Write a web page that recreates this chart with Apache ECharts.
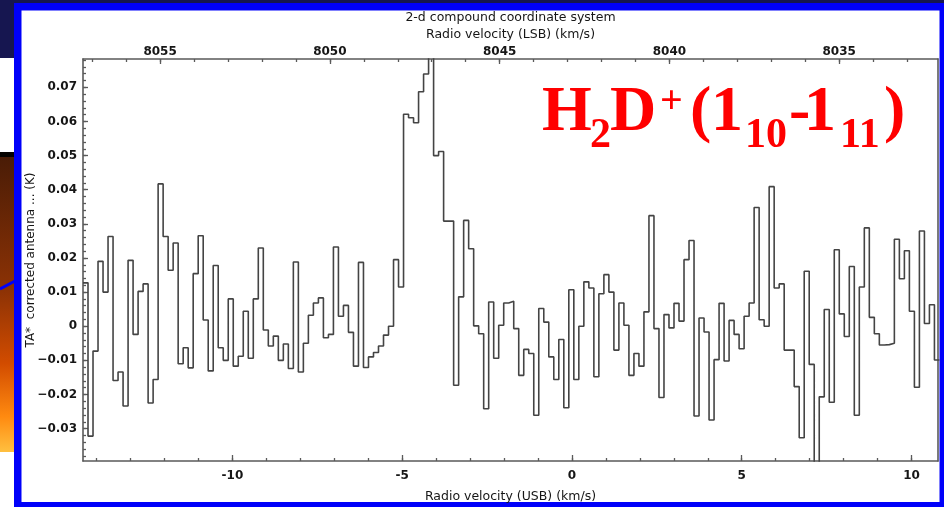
<!DOCTYPE html>
<html>
<head>
<meta charset="utf-8">
<title>H2D+ spectrum</title>
<script src="https://cdn.jsdelivr.net/npm/echarts@6.0.0/dist/echarts.min.js"></script>
<style>
  html, body { margin: 0; padding: 0; background: #161650; }
  #spectrum { width: 944px; height: 507px; }
</style>
</head>
<body>
<div id="spectrum"></div>
<script>
// channel grid of the spectrum, USB velocity (km/s)
const firstChannelEdge = -14.40;
const channelWidth = 0.1475;

// TA* per channel (K), left to right
const taValues = [
    0.0127, -0.0322, -0.0073, 0.0190, 0.0100, 0.0263, -0.0159, -0.0134, -0.0234, 0.0193,
    -0.0024, 0.0102, 0.0124, -0.0225, -0.0156, 0.0417, 0.0263, 0.0164, 0.0244, -0.0110,
    -0.0063, -0.0122, 0.0154, 0.0265, 0.0018, -0.0131, 0.0178, -0.0063, -0.0100, 0.0080,
    -0.0117, -0.0088, 0.0044, -0.0094, 0.0080, 0.0229, -0.0011, -0.0058, -0.0029, -0.0100,
    -0.0052, -0.0124, 0.0188, -0.0134, -0.0050, 0.0032, 0.0068, 0.0083, -0.0034, -0.0024,
    0.0232, 0.0029, 0.0061, -0.0018, -0.0117, 0.0187, -0.0121, -0.0090, -0.0077, -0.0058,
    -0.0026, 0.0000, 0.0195, 0.0115, 0.0621, 0.0611, 0.0596, 0.0687, 0.0739, 0.0820,
    0.0500, 0.0512, 0.0308, 0.0308, -0.0173, 0.0086, 0.0310, 0.0227, 0.0001, -0.0022,
    -0.0242, 0.0071, -0.0094, 0.0003, 0.0068, 0.0073, -0.0007, -0.0144, -0.0068, -0.0080,
    -0.0261, 0.0052, 0.0012, -0.0090, -0.0156, -0.0039, -0.0239, 0.0107, -0.0156, 0.0000,
    0.0130, 0.0112, -0.0148, 0.0095, 0.0151, 0.0100, -0.0070, 0.0068, 0.0003, -0.0144,
    -0.0080, -0.0117, 0.0042, 0.0324, -0.0007, -0.0209, 0.0034, -0.0005, 0.0067, 0.0015,
    0.0195, 0.0251, -0.0263, 0.0024, -0.0017, -0.0275, -0.0098, 0.0067, -0.0102, 0.0017,
    -0.0024, -0.0066, 0.0029, 0.0068, 0.0348, 0.0019, 0.0000, 0.0409, 0.0112, 0.0124,
    -0.0070, -0.0070, -0.0177, -0.0327, 0.0161, -0.0112, -0.0450, -0.0207, 0.0049, -0.0223,
    0.0224, 0.0036, -0.0030, 0.0175, -0.0261, 0.0115, 0.0288, 0.0026, -0.0022, -0.0055,
    -0.0054, -0.0050, 0.0255, 0.0139, 0.0221, 0.0044, -0.0179, 0.0279, 0.0008, 0.0063,
    -0.0099
];

const usbTickLabels = [-10, -5, 0, 5, 10];
const lsbTickLabels = [8055, 8050, 8045, 8040, 8035];
const taTickLabels = [-0.03, -0.02, -0.01, 0, 0.01, 0.02, 0.03, 0.04, 0.05, 0.06, 0.07];

const usbMin = -14.40, usbMax = 10.78;
const lsbOffset = 8042.87; // LSB velocity = offset - USB velocity
const taMin = -0.0395, taMax = 0.0783;

let usbMinor = [], lsbMinor = [], taMinor = [];
for (let v = -14; v <= 10; v++) usbMinor.push(v);
for (let v = 8033; v <= 8057; v++) lsbMinor.push(v);
for (let i = -19; i <= 39; i++) taMinor.push(+(i * 0.002).toFixed(3));

// each channel is a flat step from its left edge, last one closed at its right edge
let stepData = taValues.map((t, i) => [firstChannelEdge + i * channelWidth, t]);
stepData.push([firstChannelEdge + taValues.length * channelWidth, taValues[taValues.length - 1]]);

const axisColor = '#5a5a5a';
const textColor = '#161616';
const tickFont = { fontFamily: 'DejaVu Sans', fontWeight: 'bold', fontSize: 12, color: textColor };
const nameFont = { fontFamily: 'DejaVu Sans', fontSize: 12.5, color: textColor };
const gridBox = { left: 83, top: 59, width: 855, height: 402, outerBoundsMode: 'none' };

function redText(text, x, y, size) {
    return {
        type: 'text', z: 50, x: x, y: y,
        style: {
            text: text, fill: '#ff0000',
            font: 'bold ' + size + 'px "Liberation Serif"',
            textAlign: 'left', textVerticalAlign: 'middle'
        }
    };
}

function tickOnly(customValues, length) {
    return { show: true, customValues: customValues, inside: true, length: length, lineStyle: { color: axisColor, width: 1.3 } };
}

let myChart = echarts.init(document.getElementById('spectrum'));

myChart.setOption({
    animation: false,
    backgroundColor: '#161650',
    grid: [
        Object.assign({}, gridBox),
        Object.assign({}, gridBox)
    ],
    xAxis: [
        {
            gridIndex: 0, type: 'value', position: 'bottom',
            min: usbMin, max: usbMax,
            axisLine: { onZero: false, lineStyle: { color: axisColor, width: 1.6 } },
            axisTick: tickOnly(usbTickLabels, 6),
            axisLabel: Object.assign({ customValues: usbTickLabels, margin: 9 }, tickFont),
            splitLine: { show: false },
            name: 'Radio velocity (USB) (km/s)',
            nameLocation: 'middle', nameGap: 29, nameMoveOverlap: false,
            nameTextStyle: nameFont
        },
        {
            gridIndex: 0, type: 'value', position: 'top', inverse: true,
            min: lsbOffset - usbMax, max: lsbOffset - usbMin,
            axisLine: { onZero: false, lineStyle: { color: axisColor, width: 1.6 } },
            axisTick: tickOnly(lsbTickLabels, 5),
            axisLabel: Object.assign({ customValues: lsbTickLabels, margin: 1, formatter: v => String(v) }, tickFont),
            splitLine: { show: false },
            name: '2-d compound coordinate system\nRadio velocity (LSB) (km/s)',
            nameLocation: 'middle', nameGap: 16, nameMoveOverlap: false,
            nameTextStyle: Object.assign({ lineHeight: 17 }, nameFont)
        },
        {
            gridIndex: 1, type: 'value', position: 'bottom',
            min: usbMin, max: usbMax,
            axisLine: { show: false, onZero: false },
            axisTick: tickOnly(usbMinor, 3),
            axisLabel: { show: false },
            splitLine: { show: false }
        },
        {
            gridIndex: 1, type: 'value', position: 'top', inverse: true,
            min: lsbOffset - usbMax, max: lsbOffset - usbMin,
            axisLine: { show: false, onZero: false },
            axisTick: tickOnly(lsbMinor, 3),
            axisLabel: { show: false },
            splitLine: { show: false }
        }
    ],
    yAxis: [
        {
            gridIndex: 0, type: 'value', position: 'left',
            min: taMin, max: taMax,
            axisLine: { show: true, onZero: false, lineStyle: { color: axisColor, width: 1.6 } },
            axisTick: tickOnly(taTickLabels, 5),
            axisLabel: Object.assign({
                customValues: taTickLabels, margin: 6,
                formatter: v => v === 0 ? '0' : v.toFixed(2).replace('-', '\u2212')
            }, tickFont),
            splitLine: { show: false },
            name: 'TA*  corrected antenna ... (K)',
            nameLocation: 'middle', nameRotate: 90, nameGap: 46, nameMoveOverlap: false,
            nameTextStyle: Object.assign({}, nameFont, { fontSize: 12 })
        },
        {
            gridIndex: 0, type: 'value', position: 'right',
            min: taMin, max: taMax,
            axisLine: { show: true, onZero: false, lineStyle: { color: axisColor, width: 1.6 } },
            axisTick: { show: false },
            axisLabel: { show: false },
            splitLine: { show: false }
        },
        {
            gridIndex: 1, type: 'value', position: 'left',
            min: taMin, max: taMax,
            axisLine: { show: false, onZero: false },
            axisTick: tickOnly(taMinor, 3),
            axisLabel: { show: false },
            splitLine: { show: false }
        }
    ],
    graphic: [
        { type: 'rect', z: -20, shape: { x: 14, y: 3, width: 940, height: 510 }, style: { fill: '#0000fa' } },
        { type: 'rect', z: -19, shape: { x: 21.5, y: 10.5, width: 918, height: 491.5 }, style: { fill: '#ffffff' } },
        { type: 'rect', z: -19, shape: { x: 0, y: 58, width: 14, height: 94 }, style: { fill: '#ffffff' } },
        { type: 'rect', z: -19, shape: { x: 0, y: 152, width: 14, height: 5 }, style: { fill: '#050200' } },
        {
            type: 'rect', z: -19, shape: { x: 0, y: 157, width: 14, height: 295 },
            style: {
                fill: new echarts.graphic.LinearGradient(0, 0, 0, 1, [
                    { offset: 0, color: '#4a1c06' },
                    { offset: 0.45, color: '#8c3205' },
                    { offset: 0.7, color: '#d24c00' },
                    { offset: 0.88, color: '#ff8a10' },
                    { offset: 1, color: '#ffc040' }
                ])
            }
        },
        { type: 'rect', z: -19, shape: { x: 0, y: 452, width: 14, height: 55 }, style: { fill: '#ffffff' } },
        { type: 'line', z: -18, shape: { x1: 0, y1: 289, x2: 15, y2: 281 }, style: { stroke: '#0000fa', lineWidth: 3 } },
        redText('H', 542, 113, 64),
        redText('2', 590, 136, 42),
        redText('D', 610, 113, 64),
        redText('+', 660, 103, 40),
        redText('(', 690, 113, 64),
        redText('1', 711, 113, 64),
        redText('10', 745, 136, 42),
        redText('-', 789, 113, 64),
        redText('1', 804, 113, 64),
        redText('11', 840, 136, 42),
        redText(')', 884, 113, 64)
    ],
    series: [
        {
            type: 'line',
            xAxisIndex: 0, yAxisIndex: 0,
            step: 'end',
            showSymbol: false,
            data: stepData,
            lineStyle: { color: '#444444', width: 1.6 }
        }
    ]
});
</script>
</body>
</html>
